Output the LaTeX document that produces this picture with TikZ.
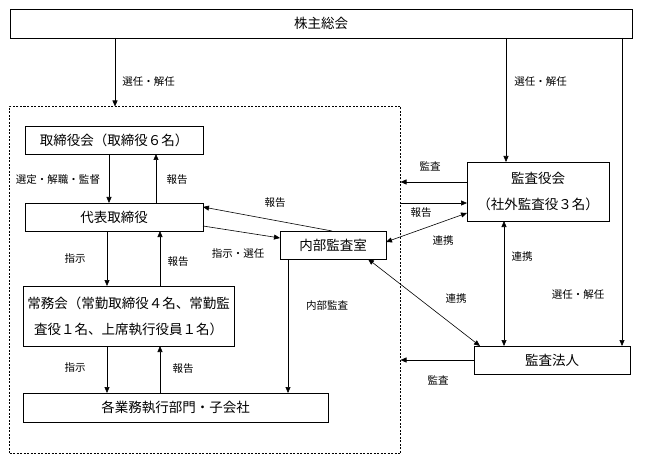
\documentclass[tikz,border=0pt]{standalone}
\usepackage{fontspec}
\setmainfont{Noto Sans CJK JP}
\usetikzlibrary{arrows.meta}

\begin{document}
\begin{tikzpicture}[x=1pt,y=-1pt,->,>={Triangle[length=6pt,width=5pt]},line width=0.6pt,
        box/.style={draw,rectangle,inner sep=0pt,outer sep=0pt,font=\fontsize{13.5}{16}\selectfont},
        lbl/.style={inner sep=0pt,font=\fontsize{10.5}{12}\selectfont},
        both/.style={{Triangle[length=6pt,width=5pt]}-{Triangle[length=6pt,width=5pt]}}]

        \useasboundingbox (0,0) rectangle (645,465);

        \node (kabu) [box,minimum width=622pt,minimum height=29pt] at (321,23.5) {株主総会};
        \node (grp) [draw,dashed,dash pattern=on 2pt off 1.5pt,inner sep=0pt,outer sep=0pt,
                     minimum width=391pt,minimum height=347pt] at (205,280) {};

        \node (tkai) [box,minimum width=178pt,minimum height=28pt] at (114,140) {取締役会（取締役６名）};
        \node (daihyo) [box,minimum width=178pt,minimum height=28pt] at (114,217) {代表取締役};
        \node (naibu) [box,minimum width=106pt,minimum height=28pt] at (333,245) {内部監査室};
        \node (jomu) [box,minimum width=211pt,minimum height=60pt,align=center,
                      font=\fontsize{13.5}{26}\selectfont] at (128.5,316)
                     {常務会（常勤取締役４名、常勤監\\査役１名、上席執行役員１名）};
        \node (kaku) [box,minimum width=305pt,minimum height=29pt] at (175.5,407.5) {各業務執行部門・子会社};

        \node (kansa) [box,minimum width=142pt,minimum height=59pt,align=center,
                       font=\fontsize{13.5}{26}\selectfont] at (538,191.5)
                      {監査役会\\（社外監査役３名）};
        \node (hojin) [box,minimum width=156pt,minimum height=28pt] at (552,360) {監査法人};

        \coordinate (x115) at (115,0);
        \coordinate (x506) at (506,0);
        \coordinate (x622) at (622,0);
        \coordinate (x504) at (504,0);
        \coordinate (x107) at (107,0);
        \coordinate (x109) at (109,0);
        \coordinate (x156) at (156,0);
        \coordinate (x160) at (160,0);
        \coordinate (x288) at (288,0);
        \coordinate (x332) at (332,0);
        \coordinate (x368) at (368,0);
        \coordinate (y182) at (0,182);
        \coordinate (y203) at (0,203);
        \coordinate (y207) at (0,207);
        \coordinate (y213) at (0,213);
        \coordinate (y226) at (0,226);
        \coordinate (y238) at (0,238);
        \coordinate (y242) at (0,242);
        \coordinate (y360) at (0,360);

        \path
        (x115 |- kabu.south) edge (x115 |- grp.north)
        (x506 |- kabu.south) edge (x506 |- kansa.north)
        (x622 |- kabu.south) edge (x622 |- hojin.north)

        (x109 |- tkai.south) edge (x109 |- daihyo.north)
        (x156 |- daihyo.north) edge (x156 |- tkai.south)
        (x332 |- naibu.north) edge (daihyo.east |- y207)
        (daihyo.east |- y226) edge (naibu.west |- y238)

        (x107 |- daihyo.south) edge (x107 |- jomu.north)
        (x160 |- jomu.north) edge (x160 |- daihyo.south)
        (x107 |- jomu.south) edge (x107 |- kaku.north)
        (x160 |- kaku.north) edge (x160 |- jomu.south)
        (x288 |- naibu.south) edge (x288 |- kaku.north)

        (kansa.west |- y182) edge (grp.east |- y182)
        (grp.east |- y203) edge (kansa.west |- y203)
        (hojin.west |- y360) edge (grp.east |- y360)

        (naibu.east |- y242) edge[both] (kansa.west |- y213)
        (x504 |- kansa.south) edge[both] (x504 |- hojin.north)
        (x368 |- naibu.south) edge[both] ([xshift=6pt]hojin.north west)
            ;

        \node (l1) [lbl,anchor=west] at (122,82) {選任・解任};
        \node (l2) [lbl,anchor=west] at (514,82) {選任・解任};
        \node (l3) [lbl] at (578,295) {選任・解任};
        \node (l4) [lbl] at (58,180) {選定・解職・監督};
        \node (l5) [lbl] at (177,180) {報告};
        \node (l6) [lbl] at (275,203) {報告};
        \node (l7) [lbl] at (238,254) {指示・選任};
        \node (l8) [lbl] at (75,259) {指示};
        \node (l9) [lbl] at (178,262) {報告};
        \node (l10) [lbl] at (75,368) {指示};
        \node (l11) [lbl] at (183,369) {報告};
        \node (l12) [lbl] at (327,306) {内部監査};
        \node (l13) [lbl] at (430,166) {監査};
        \node (l14) [lbl] at (421,213) {報告};
        \node (l15) [lbl] at (443,241) {連携};
        \node (l16) [lbl] at (522,257) {連携};
        \node (l17) [lbl] at (456,299) {連携};
        \node (l18) [lbl] at (438,380) {監査};
\end{tikzpicture}
\end{document}
